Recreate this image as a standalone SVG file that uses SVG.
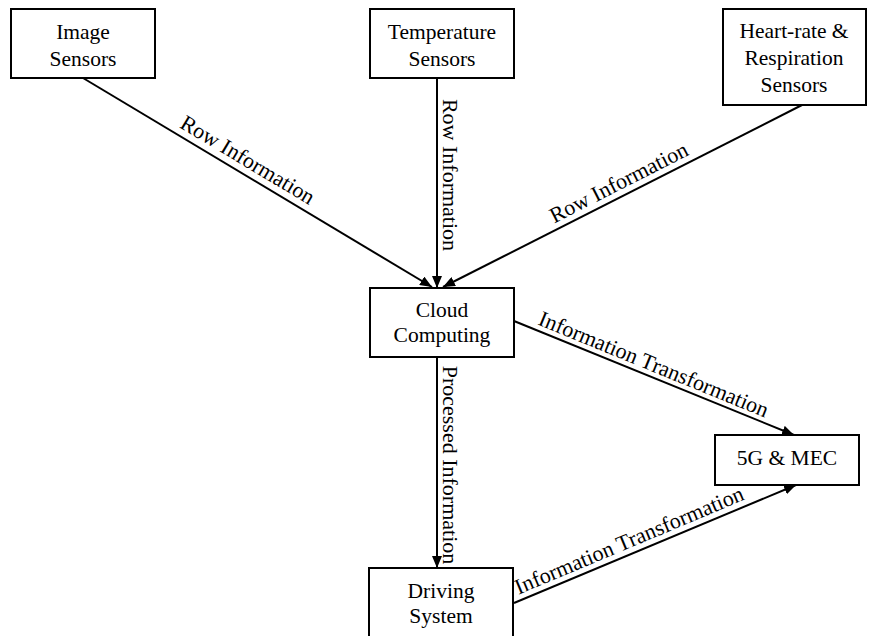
<svg xmlns="http://www.w3.org/2000/svg" width="869" height="636" viewBox="0 0 869 636">
<style>
.box{fill:#fff;stroke:#000;stroke-width:2}
.t{font-family:"Liberation Serif","Times New Roman",serif;font-size:21.5px;fill:#000;text-anchor:middle}
.l{font-size:22px}
.e{stroke:#000;stroke-width:2;fill:none;marker-end:url(#ah)}
</style>
<defs>
<marker id="ah" viewBox="0 0 12 10" refX="12" refY="5" markerWidth="12" markerHeight="10" markerUnits="userSpaceOnUse" orient="auto">
<path d="M0,0 L12,5 L0,10 Z" fill="#000"/>
</marker>
</defs>
<rect width="869" height="636" fill="#fff"/>
<g id="connectors">
<line class="e" x1="83" y1="78" x2="432" y2="287"/>
<line class="e" x1="437" y1="78" x2="437" y2="288"/>
<line class="e" x1="802" y1="105" x2="443" y2="287"/>
<line class="e" x1="514" y1="321" x2="794" y2="435"/>
<line class="e" x1="437" y1="357" x2="437" y2="568"/>
<line class="e" x1="514" y1="603" x2="796" y2="485"/>
<text class="t l" transform="translate(244,166) rotate(30.9)">Row Information</text>
<text class="t l" transform="translate(443,175) rotate(90)">Row Information</text>
<text class="t l" transform="translate(622,189) rotate(-26.9)">Row Information</text>
<text class="t l" transform="translate(651,371) rotate(22.3)">Information Transformation</text>
<text class="t l" transform="translate(443,465) rotate(90)">Processed Information</text>
<text class="t l" transform="translate(632,547) rotate(-22.8)">Information Transformation</text>
</g>
<g id="image-sensors">
<rect class="box" x="11" y="9" width="144" height="69"/>
<text class="t" x="83" y="39">Image</text>
<text class="t" x="83" y="66">Sensors</text>
</g>
<g id="temperature-sensors">
<rect class="box" x="370" y="9" width="144" height="69"/>
<text class="t" x="442" y="39">Temperature</text>
<text class="t" x="442" y="66">Sensors</text>
</g>
<g id="heart-rate-sensors">
<rect class="box" x="723" y="9" width="143" height="96"/>
<text class="t" x="794" y="38">Heart-rate &amp;</text>
<text class="t" x="794" y="65">Respiration</text>
<text class="t" x="794" y="92">Sensors</text>
</g>
<g id="cloud-computing">
<rect class="box" x="370" y="288" width="144" height="69"/>
<text class="t" x="442" y="317">Cloud</text>
<text class="t" x="442" y="342">Computing</text>
</g>
<g id="five-g-mec">
<rect class="box" x="715" y="435" width="144" height="50"/>
<text class="t" x="787" y="465">5G &amp; MEC</text>
</g>
<g id="driving-system">
<rect class="box" x="369" y="568" width="144" height="80"/>
<text class="t" x="441" y="598">Driving</text>
<text class="t" x="441" y="623">System</text>
</g>
</svg>
